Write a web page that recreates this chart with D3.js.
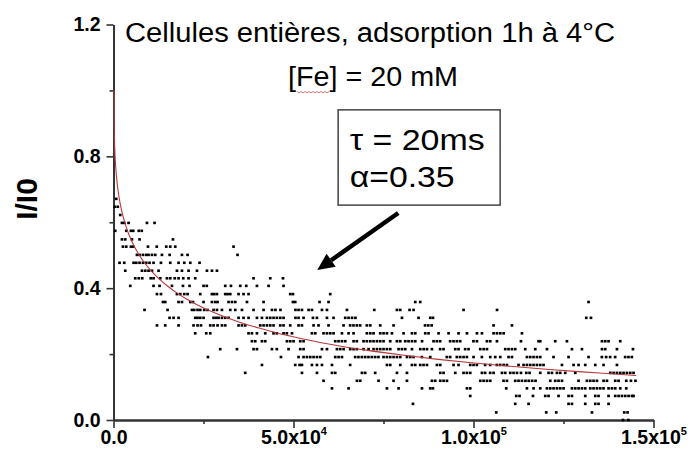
<!DOCTYPE html>
<html><head><meta charset="utf-8">
<script src="https://cdn.jsdelivr.net/npm/d3@7"></script>
<style>body{margin:0;background:#fff}svg{display:block}</style>
</head><body>
<svg id="c" width="688" height="454"></svg>
<script>
// ---- chart data ----
const xTickValues = [0, 50, 100, 150];            // in units of 10^3
const xTickMantissa = ["0.0", "5.0x10", "1.0x10", "1.5x10"];
const xTickExponent = ["", "4", "5", "5"];
const xMinorTicks = [25, 75, 125];
const yTickValues = [0, 0.4, 0.8, 1.2];
const yMinorTicks = [0.2, 0.6, 1.0];
const yAxisTitle = "I/I0";
const titleLines = ["Cellules entières, adsorption 1h à 4°C", "[Fe] = 20 mM"];
const fitLabels = ["τ = 20ms", "α=0.35"];

// measured I/I0 levels (quantised) and x positions (×10^3) of the points on each level
const levels = [0.671,0.647,0.622,0.598,0.574,0.548,0.526,0.501,0.477,0.453,0.430,0.407,0.382,0.358,0.334,0.310,0.287,0.263,0.239,0.215,0.191,0.167,0.143,0.119,0.096,0.073,0.049,0.023,0.0];
const rows = [
 [0.75],
 [0.33,1.17],
 [1.86],
 [2.33,2.97,4.17,9.28,11.39],
 [0.47,3.53,4.83,5.47,7.0,7.83],
 [2.33,3.25,5.11,7.22,16.5],
 [2.61,3.53,4.83,5.47,9.56,12.0,14.64,15.75,17.14,33.33],
 [6.5,7.22,8.17,9.08,9.72,10.67,11.58,13.44,15.58,19.0,20.56,34.44],
 [1.67,2.97,5.56,6.31,7.22,8.17,9.08,10.0,11.11,13.17,15.75,18.06,19.64,21.31,23.89],
 [3.25,7.89,8.81,9.72,10.67,12.5,17.61,19.0,20.83,23.17,25.94,27.33,28.72],
 [6.03,7.0,7.97,10.33,11.11,12.97,14.83,15.75,17.0,18.06,19.36,20.83,22.69,38.89,43.53,47.06],
 [4.64,11.11,12.78,16.22,19.28,21.11,25.0,25.89,31.03,32.61,35.19,36.86,39.83,43.06,47.22],
 [12.06,13.17,17.61,18.53,19.64,20.56,24.08,27.33,27.97,28.72,31.03,31.67,32.42,34.72,36.11,37.5,49.08,49.83,60.19],
 [13.72,14.36,18.06,19.0,21.31,22.06,25.0,27.33,28.25,28.89,31.94,32.89,33.81,37.06,41.67,49.83,50.47,57.22,59.72,83.81,85.19,131.94],
 [8.61,15.0,21.78,22.42,23.33,24.08,25.19,26.11,27.78,28.72,30.11,32.42,33.81,35.67,38.89,41.67,44.0,44.97,46.36,50.53,51.39,52.33,54.17,55.11,57.89,59.28,64.83,72.42,78.72,79.64,82.22,83.33,97.22,106.53],
 [15.56,16.67,18.06,22.69,23.33,24.08,25.0,27.78,28.53,29.17,30.11,31.03,31.94,34.72,36.11,37.5,39.83,41.22,42.61,43.53,44.44,45.36,46.31,47.22,50.53,51.39,52.78,55.39,56.5,59.28,61.11,64.36,65.28,66.25,67.19,80.11,84.72,87.97,88.72,131.31,132.61],
 [12.06,14.36,18.06,22.22,23.33,24.28,26.86,27.78,28.89,30.11,31.03,34.72,35.67,36.58,40.75,41.67,42.61,43.53,44.44,46.31,47.22,49.08,51.39,52.33,55.56,56.94,59.72,63.89,65.72,66.64,67.58,68.5,70.36,71.31,74.08,77.78,86.53,87.42,88.36,105.56,110.67],
 [22.69,25.75,26.86,37.5,38.44,39.83,42.14,44.44,45.36,47.22,48.14,49.56,55.11,56.03,58.33,59.28,60.19,61.11,63.44,65.28,66.67,70.36,71.31,72.22,74.08,75.0,75.94,77.33,80.56,82.89,83.81,86.58,87.5,90.28,93.06,95.83,98.17,100.94,102.33,105.56,106.5,107.42,108.36,113.44],
 [38.44,39.36,41.22,42.14,48.17,49.08,50.0,51.86,52.78,61.58,62.5,63.44,64.36,66.67,67.58,69.44,70.36,71.31,72.22,73.17,74.08,75.0,76.86,78.72,79.64,81.03,81.94,82.89,83.81,85.69,88.89,89.81,90.72,93.5,94.44,95.36,96.28,99.97,100.94,103.72,104.64,106.5,113.17,118.06,118.53,122.69,125.94,135.67,136.58,137.5,140.75],
 [29.64,34.28,38.89,39.83,44.0,45.36,48.61,51.86,52.78,57.89,59.28,62.06,62.97,63.89,65.75,66.67,67.58,69.44,70.83,72.22,73.17,74.08,75.0,75.94,76.86,79.17,80.11,81.03,82.89,85.19,86.14,87.06,88.44,90.72,91.67,94.92,95.83,97.67,98.61,101.86,102.81,103.72,108.81,109.72,110.67,111.58,114.36,117.14,120.39,127.33,130.11,135.67,136.58,139.83,144.28],
 [26.22,46.5,51.39,52.78,53.72,54.64,55.56,56.5,57.42,61.58,62.5,63.44,67.11,68.03,68.97,69.89,70.81,71.75,72.67,73.58,75.0,75.94,76.86,77.78,78.72,79.64,81.5,82.42,83.33,85.64,87.97,92.58,93.5,95.36,96.28,97.22,98.14,100.0,102.31,104.64,106.03,107.42,109.72,110.67,114.83,115.75,116.67,117.61,118.53,122.22,126.39,131.94,135.64,136.83,137.94,139.33,142.11,143.03,143.97],
 [41.22,50.47,51.67,52.33,55.11,56.5,57.89,60.67,65.72,75.94,76.86,79.64,82.89,83.81,85.19,86.11,87.06,89.83,90.75,94.44,95.83,99.08,100.0,100.92,103.22,104.61,106.47,107.39,108.36,109.28,112.5,113.89,114.83,115.75,116.67,117.61,118.53,119.44,124.56,127.78,129.17,131.03,133.81,136.11,139.83],
 [36.58,52.33,56.5,60.67,61.58,69.0,69.89,72.67,78.72,81.5,90.75,91.67,94.92,97.22,98.14,99.08,102.33,103.22,104.61,105.56,107.89,108.81,110.19,111.11,112.06,113.17,114.64,115.56,118.53,120.83,121.78,123.17,124.08,125.47,128.25,137.97,138.89,139.83,140.75,141.67,142.61,143.53,144.44],
 [58.33,67.61,68.53,73.61,77.78,81.5,88.44,89.36,90.75,91.67,92.61,101.86,102.78,103.72,104.64,108.33,109.28,111.58,112.5,113.44,114.42,115.33,116.28,117.22,121.31,122.69,123.61,124.56,129.17,131.5,132.42,133.33,134.28,136.11,137.06,139.36,140.28,142.42,143.72,144.97],
 [60.67,65.28,75.94,79.17,85.67,87.97,88.72,98.17,99.08,109.08,114.83,116.67,118.53,120.39,121.31,122.22,123.17,124.08,125.0,127.33,128.25,129.17,130.11,131.03,132.42,133.33,134.28,135.19,136.11,137.5,138.44,139.36,140.75,142.42],
 [99.08,111.86,112.78,116.5,119.92,120.83,123.61,126.39,127.33,131.03,133.81,134.72,137.5,139.36,140.28,141.22,142.14,143.06,144.0,144.44],
 [83.17,111.58,115.28,126.39,127.33,131.03,133.81,134.72,137.5],
 [106.31,120.19,122.97,132.89,141.86,142.78],
 [141.5,143.0]
];

// fitted curve
const fitX = [0,0.02,0.1,0.3,0.6,1,1.5,2,3,4,5,6.5,8,10,12.5,15,17.5,20,25,30,35,40,45,50,60,70,80,90,100,110,120,130,140,145];
const fitY = [1.0,0.915,0.855,0.795,0.746,0.704,0.668,0.640,0.598,0.566,0.540,0.509,0.484,0.456,0.428,0.405,0.385,0.368,0.339,0.316,0.296,0.280,0.265,0.252,0.230,0.212,0.197,0.184,0.173,0.163,0.154,0.146,0.139,0.135];

// ---- drawing ----
const svg = d3.select("#c");
svg.append("rect").attr("width",688).attr("height",454).attr("fill","#fff");
const FONT = "'Liberation Sans', Arial, sans-serif";
const AXC = "#333";

const x = d3.scaleLinear().domain([0,150]).range([113.5,653.5]);
const y = d3.scaleLinear().domain([0,1.2]).range([420,24.5]);

// y axis
const gy = svg.append("g").attr("transform","translate(113.5,0)");
gy.call(d3.axisLeft(y).tickValues(yTickValues).tickSize(7).tickSizeOuter(0).tickPadding(6).tickFormat(d3.format(".1f")));
gy.append("g").call(d3.axisLeft(y).tickValues(yMinorTicks).tickSize(4).tickSizeOuter(0).tickFormat(""));
gy.selectAll("path.domain").attr("stroke",AXC).attr("stroke-width",1.8);
gy.selectAll(".tick line").attr("stroke",AXC).attr("stroke-width",1.6);
gy.selectAll(".tick text").attr("font-family",FONT).attr("font-weight","bold").attr("font-size",19.5).attr("fill","#000");

// x axis
const gx = svg.append("g").attr("transform","translate(0,420)");
gx.call(d3.axisBottom(x).tickValues(xTickValues).tickSize(8).tickSizeOuter(0).tickPadding(2).tickFormat(""));
gx.append("g").call(d3.axisBottom(x).tickValues(xMinorTicks).tickSize(4).tickSizeOuter(0).tickFormat(""));
gx.selectAll("path.domain").attr("stroke",AXC).attr("stroke-width",1.8);
gx.selectAll(".tick line").attr("stroke",AXC).attr("stroke-width",1.6);
gx.selectAll(":scope > .tick text").each(function(d,i){
  const t = d3.select(this).attr("font-family",FONT).attr("font-weight","bold").attr("font-size",19.5).attr("fill","#000");
  t.text(null);
  t.append("tspan").text(xTickMantissa[i]);
  if (xTickExponent[i]) t.append("tspan").attr("font-size",11).attr("dy","-0.8em").text(xTickExponent[i]);
});

// y axis title
svg.append("text").attr("transform","translate(37,199) rotate(-90)")
  .attr("text-anchor","middle").attr("font-family",FONT).attr("font-weight","bold")
  .attr("font-size",30).attr("fill","#000").text(yAxisTitle);

// data points
const pts = rows.flatMap((r,i)=>r.map(v=>({t:v, v:levels[i]})));
svg.append("g").selectAll("rect").data(pts).join("rect")
  .attr("x",d=>x(d.t)-1.3).attr("y",d=>y(d.v)-1.3)
  .attr("width",2.7).attr("height",2.6).attr("fill","#000");

// fit curve
const fit = fitX.map((t,i)=>[t,fitY[i]]);
svg.append("path").datum(fit)
  .attr("d", d3.line().x(d=>x(d[0])+0.6).y(d=>y(d[1])).curve(d3.curveMonotoneX))
  .attr("fill","none").attr("stroke","#b8383a").attr("stroke-width",1.1);

// title
svg.append("text").attr("x",125).attr("y",42)
  .attr("textLength",490).attr("lengthAdjust","spacingAndGlyphs")
  .attr("font-family",FONT).attr("font-size",27).attr("fill","#000").text(titleLines[0]);
svg.append("text").attr("x",288).attr("y",85.5)
  .attr("textLength",170).attr("lengthAdjust","spacingAndGlyphs")
  .attr("font-family",FONT).attr("font-size",27).attr("fill","#000").text(titleLines[1]);
// spell-check squiggle under "Fe"
const sq = d3.path(); sq.moveTo(297,91.5);
for (let k=0;k<16;k++){ sq.lineTo(299+k*2, k%2?91.5:93); }
svg.append("path").attr("d",sq.toString()).attr("fill","none").attr("stroke","#d05050").attr("stroke-width",0.8);

// annotation box
svg.append("rect").attr("x",x(62.4)).attr("y",y(0.941))
  .attr("width",x(107.4)-x(62.4)).attr("height",y(0.652)-y(0.941))
  .attr("fill","#fff").attr("stroke","#444").attr("stroke-width",1.5);
svg.append("text").attr("x",x(65.6)).attr("y",y(0.819)).attr("font-family",FONT)
  .attr("textLength",135).attr("lengthAdjust","spacingAndGlyphs")
  .attr("font-size",30).attr("fill","#000").text(fitLabels[0]);
svg.append("text").attr("x",x(65.6)).attr("y",y(0.707)).attr("font-family",FONT)
  .attr("textLength",105).attr("lengthAdjust","spacingAndGlyphs")
  .attr("font-size",30).attr("fill","#000").text(fitLabels[1]);

// arrow
const ax0 = x(79.1), ay0 = y(0.628), ax1 = x(56.6), ay1 = y(0.455);
const ang = Math.atan2(ay1-ay0, ax1-ax0);
const hl = 17, hw = 8;
const bx = ax1 - hl*Math.cos(ang), by = ay1 - hl*Math.sin(ang);
svg.append("line").attr("x1",ax0).attr("y1",ay0).attr("x2",bx).attr("y2",by)
  .attr("stroke","#000").attr("stroke-width",4.5);
svg.append("path").attr("d",
  `M${ax1},${ay1}L${bx + hw*Math.sin(ang)},${by - hw*Math.cos(ang)}L${bx - hw*Math.sin(ang)},${by + hw*Math.cos(ang)}Z`)
  .attr("fill","#000");
</script>
</body></html>
